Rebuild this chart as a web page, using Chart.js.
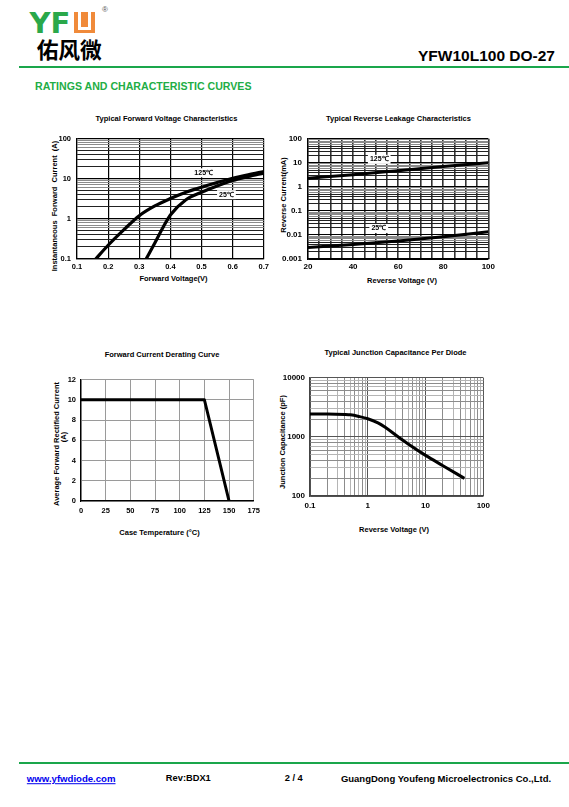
<!DOCTYPE html>
<html><head><meta charset="utf-8">
<script src="https://cdn.jsdelivr.net/npm/chart.js@4.4.1/dist/chart.umd.min.js"></script>
<style>
html,body{margin:0;padding:0;background:#fff;}
#page{position:relative;width:569px;height:807px;overflow:hidden;font-family:"Liberation Sans",Arial,sans-serif;font-weight:bold;color:#000;}
.t{position:absolute;white-space:nowrap;line-height:1;}
.c{transform:translate(-50%,-50%);}
.v{transform:translate(-50%,-50%) rotate(-90deg);}
canvas{position:absolute;}
</style></head><body><div id="page">

<div class="t" style="left:29.5px;top:8.8px;font-family:'DejaVu Sans',sans-serif;font-size:29px;color:#2aa84a;">YF</div>
<div style="position:absolute;left:74.3px;top:12.3px;width:20.7px;height:21px;background:#f08a3a;">
  <div style="position:absolute;left:4px;top:0;width:12.7px;height:17.5px;background:#fff;"></div>
  <div style="position:absolute;left:6.5px;top:0;width:7.7px;height:15px;background:#f08a3a;"></div>
</div>
<div class="t c" style="left:105px;top:10px;font-size:8px;font-weight:normal;color:#555;">®</div>
<div class="t c" style="left:69.2px;top:49px;font-family:'Noto Sans CJK SC',sans-serif;font-size:21.7px;font-weight:700;">佑风微</div>
<div class="t c" style="left:486.5px;top:56px;font-size:15.5px;">YFW10L100 DO-27</div>
<div style="position:absolute;left:19px;top:66px;width:550px;height:2px;background:#1aa64b;"></div>
<div class="t c" style="left:143.3px;top:85.7px;font-size:10.6px;color:#22ad45;">RATINGS AND CHARACTERISTIC CURVES</div>

<div class="t c" style="left:166.5px;top:119px;font-size:7.5px;">Typical Forward Voltage Characteristics</div>
<div class="t c" style="left:173.5px;top:279px;font-size:7.5px;">Forward Voltage(V)</div>
<div class="t v" style="left:55px;top:206px;font-size:7.5px;">Instantaneous&nbsp; Forward&nbsp; Current&nbsp; (A)</div>

<div class="t c" style="left:398.5px;top:119px;font-size:7.5px;">Typical Reverse Leakage Characteristics</div>
<div class="t c" style="left:402px;top:280.5px;font-size:7.5px;">Reverse Voltage (V)</div>
<div class="t v" style="left:284px;top:195px;font-size:7.5px;">Reverse Current(mA)</div>

<div class="t c" style="left:162px;top:355px;font-size:7.5px;">Forward Current Derating Curve</div>
<div class="t c" style="left:159.5px;top:532.7px;font-size:7.5px;">Case Temperature (°C)</div>
<div class="t v" style="left:56.7px;top:444px;font-size:7.5px;">Average Forward Rectified Current</div>
<div class="t v" style="left:64px;top:437px;font-size:7.5px;">(A)</div>

<div class="t c" style="left:395.5px;top:352.7px;font-size:7.5px;">Typical Junction Capacitance Per Diode</div>
<div class="t c" style="left:394px;top:530px;font-size:7.5px;">Reverse Voltage (V)</div>
<div class="t v" style="left:283.3px;top:442px;font-size:7.5px;">Junction Capacitance (pF)</div>

<canvas id="c1" width="232" height="150" style="left:40px;top:128px;width:232px;height:150px;"></canvas>
<canvas id="c2" width="218" height="150" style="left:280px;top:128px;width:218px;height:150px;"></canvas>
<canvas id="c3" width="225" height="145" style="left:40px;top:370px;width:225px;height:145px;"></canvas>
<canvas id="c4" width="220" height="145" style="left:275px;top:368px;width:220px;height:145px;"></canvas>

<div style="position:absolute;left:19px;top:761.5px;width:550px;height:2px;background:#1aa64b;"></div>
<div class="t c" style="left:71.2px;top:779px;font-size:9.6px;color:#0000ee;text-decoration:underline;">www.yfwdiode.com</div>
<div class="t c" style="left:188.3px;top:779px;font-size:9.3px;">Rev:BDX1</div>
<div class="t c" style="left:293.7px;top:779px;font-size:9.3px;">2 / 4</div>
<div class="t c" style="left:446px;top:779px;font-size:9.5px;">GuangDong Youfeng Microelectronics Co.,Ltd.</div>
</div>
<script>
// ===== Data =====
const fvVolt125 = [0.16,0.2,0.25,0.3,0.35,0.4,0.45,0.5,0.55,0.6,0.65,0.7];
const fvAmp125  = [0.1,0.22,0.53,1.2,2.1,3.2,4.6,6.1,8.0,10.2,12.5,15];
const fvVolt25  = [0.322,0.35,0.38,0.4,0.45,0.5,0.55,0.6,0.65,0.7];
const fvAmp25   = [0.1,0.25,0.69,1.25,3.0,4.6,6.6,9.0,11.3,13.8];
const fvXTicks  = [0.1,0.2,0.3,0.4,0.5,0.6,0.7];
const fvYLabels = [0.1,1,10,100];

const rlVolt    = [20,40,60,80,100];
const rlCur125  = [2.3,3.2,4.7,7.0,10.2];
const rlCur25   = [0.003,0.004,0.0056,0.0085,0.0135];
const rlXTicks  = [20,25,30,35,40,45,50,55,60,65,70,75,80,85,90,95,100];
const rlXLabels = [20,40,60,80,100];
const rlYLabels = [0.001,0.01,0.1,1,10,100];

const drTemp    = [0,125,150];
const drCur     = [10,10,0];
const drXTicks  = [0,25,50,75,100,125,150,175];
const drYTicks  = [0,2,4,6,8,10,12];

const jcVolt    = [0.1,0.2,0.4,0.5,0.7,1,1.5,2,3.25,5,10,20,47];
const jcCap     = [2430,2430,2400,2365,2220,2030,1726,1452,1024,758,487,326,199];
const jcXLabels = [0.1,1,10,100];
const jcYLabels = [100,1000,10000];

const fvLabels = [{x:0.507,y:14,text:'125℃'},{x:0.58,y:4.0,text:'25℃'}];
const rlLabels = [{x:51.6,y:14,text:'125℃'},{x:51.4,y:0.0186,text:'25℃'}];

// ===== Helpers =====
const FONT = '"Liberation Sans", Arial, sans-serif';
const tickFont = s => ({family:FONT,size:s,weight:'bold'});
const fixedWidth = w => s => { s.width = w; };
const fixedHeight = h => s => { s.height = h; };
const setTicks = vals => s => { s.ticks = vals.map(v => ({value:v})); };
function logGrid(min,max){
  const out=[];
  for(let e=Math.round(Math.log10(min)); e<=Math.round(Math.log10(max)); e++){
    for(let s=1;s<=9;s++){
      const v=Number((s*Math.pow(10,e)).toPrecision(6));
      if(v>=min*0.9999 && v<=max*1.0001) out.push(v);
    }
  }
  return out;
}
function sig(v){const e=Math.floor(Math.log10(v)+1e-9);return Math.round(v/Math.pow(10,e));}
const labelIf = list => v => list.some(l => Math.abs(l-v) < 1e-6*Math.abs(l||1)) ? String(v) : '';
const pts = (xs,ys) => xs.map((x,i)=>({x, y:ys[i]}));

const labelPlugin = {
  id:'curveLabels',
  afterDatasetsDraw(chart, args, opts){
    const ctx = chart.ctx;
    (opts.items||[]).forEach(it=>{
      const x = chart.scales.x.getPixelForValue(it.x);
      const y = chart.scales.y.getPixelForValue(it.y);
      ctx.save();
      ctx.font = 'bold 7px ' + FONT;
      const w = ctx.measureText(it.text).width;
      ctx.fillStyle = '#fff';
      ctx.fillRect(x-w/2-2, y-4.5, w+4, 9);
      ctx.fillStyle = '#000';
      ctx.textAlign = 'center';
      ctx.textBaseline = 'middle';
      ctx.fillText(it.text, x, y);
      ctx.restore();
    });
  }
};

function makeChart(id, datasets, xCfg, yCfg, padding, items){
  return new Chart(document.getElementById(id), {
    type:'line',
    data:{datasets},
    options:{
      responsive:false, animation:false, events:[],
      layout:{padding},
      plugins:{legend:{display:false}, tooltip:{enabled:false}, curveLabels:{items:items||[]}},
      scales:{x:xCfg, y:yCfg}
    },
    plugins:[labelPlugin]
  });
}
const line = (data,w,mode,tension) => ({data, borderColor:'#000', borderWidth:w, pointRadius:0, fill:false,
  tension:tension||0, cubicInterpolationMode: mode || 'default', borderJoinStyle:'round', borderCapStyle:'butt'});

const logGridColor = c => { const s = sig(c.tick.value); return s===1 ? '#000' : (s<=5 ? '#222' : '#8a8a8a'); };

// ===== Chart 1: Forward voltage =====
makeChart('c1',
  [line(pts(fvVolt125,fvAmp125),3.2,'monotone'), line(pts(fvVolt25,fvAmp25),3.2,'monotone')],
  {type:'linear',min:0.1,max:0.7,afterBuildTicks:setTicks(fvXTicks),afterFit:fixedHeight(19),
   ticks:{font:tickFont(7.5),color:'#000',padding:3,autoSkip:false,maxRotation:0,callback:v=>v.toFixed(1)},
   grid:{color:'#000',lineWidth:1.2,drawTicks:false},border:{color:'#000',width:1.2}},
  {type:'logarithmic',min:0.1,max:100,afterBuildTicks:setTicks(logGrid(0.1,100)),afterFit:fixedWidth(37),
   ticks:{font:tickFont(7.5),color:'#000',padding:6,autoSkip:false,callback:labelIf(fvYLabels)},
   grid:{color:logGridColor,lineWidth:c=>sig(c.tick.value)===1?1.3:1,drawTicks:false},border:{color:'#000',width:1.2}},
  {top:6,right:8,left:0,bottom:0}, fvLabels);

// ===== Chart 2: Reverse leakage =====
makeChart('c2',
  [line(pts(rlVolt,rlCur125),3,'monotone'), line(pts(rlVolt,rlCur25),3,'monotone')],
  {type:'linear',min:20,max:100,afterBuildTicks:setTicks(rlXTicks),afterFit:fixedHeight(19),
   ticks:{font:tickFont(8),color:'#000',padding:3,autoSkip:false,maxRotation:0,callback:labelIf(rlXLabels)},
   grid:{color:'#333',lineWidth:1.6,drawTicks:false},border:{color:'#000',width:1.2}},
  {type:'logarithmic',min:0.001,max:100,afterBuildTicks:setTicks(logGrid(0.001,100)),afterFit:fixedWidth(28),
   ticks:{font:tickFont(8),color:'#000',padding:6,autoSkip:false,callback:labelIf(rlYLabels)},
   grid:{color:logGridColor,lineWidth:1,drawTicks:false},border:{color:'#000',width:1.2}},
  {top:6,right:8,left:0,bottom:0}, rlLabels);

// ===== Chart 3: Derating =====
makeChart('c3',
  [line(pts(drTemp,drCur),3,'default',0)],
  {type:'linear',min:0,max:175,afterBuildTicks:setTicks(drXTicks),afterFit:fixedHeight(14),
   ticks:{font:tickFont(7.5),color:'#000',padding:5,autoSkip:false,maxRotation:0},
   grid:{color:'#9a9a9a',lineWidth:1,drawTicks:false},border:{color:'#000',width:1.2}},
  {type:'linear',min:0,max:12,afterBuildTicks:setTicks(drYTicks),afterFit:fixedWidth(41),
   ticks:{font:tickFont(7.5),color:'#000',padding:5,autoSkip:false},
   grid:{color:'#9a9a9a',lineWidth:1,drawTicks:false},border:{color:'#000',width:1.2}},
  {top:9,right:8,left:0,bottom:0});

// ===== Chart 4: Junction capacitance =====
const jcGridColor = c => { const s = sig(c.tick.value); return s===1 ? '#555' : (s%2===0 ? '#8c8c8c' : '#b5b5b5'); };
makeChart('c4',
  [line(pts(jcVolt,jcCap),3,'monotone')],
  {type:'logarithmic',min:0.1,max:100,afterBuildTicks:setTicks(logGrid(0.1,100)),afterFit:fixedHeight(17),
   ticks:{font:tickFont(8),color:'#000',padding:5,autoSkip:false,maxRotation:0,callback:labelIf(jcXLabels)},
   grid:{color:jcGridColor,lineWidth:1,drawTicks:false},border:{color:'#444',width:1.2}},
  {type:'logarithmic',min:100,max:10000,afterBuildTicks:setTicks(logGrid(100,10000)),afterFit:fixedWidth(35),
   ticks:{font:tickFont(8),color:'#000',padding:5,autoSkip:false,callback:labelIf(jcYLabels)},
   grid:{color:jcGridColor,lineWidth:1,drawTicks:false},border:{color:'#444',width:1.2}},
  {top:9,right:9,left:0,bottom:0});
</script>
</body></html>
